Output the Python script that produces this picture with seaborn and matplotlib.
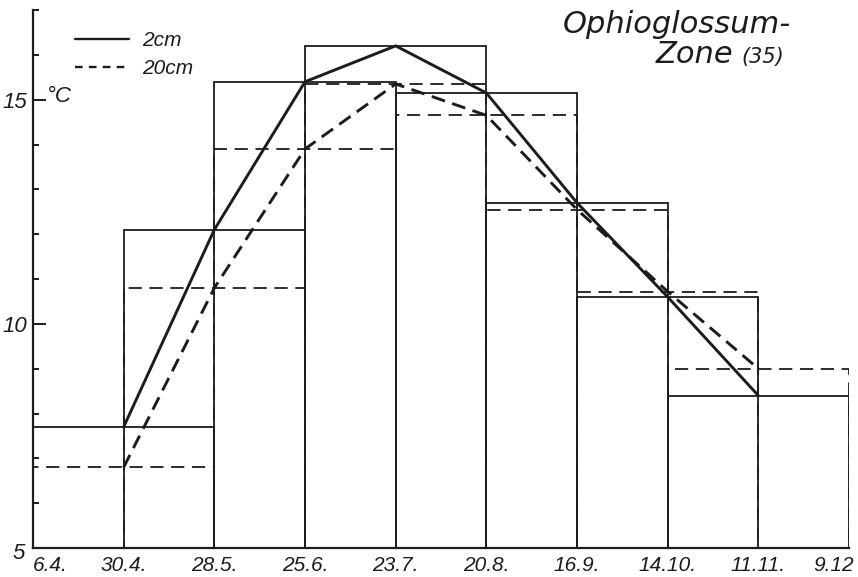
import matplotlib
matplotlib.use("Agg")
import matplotlib.pyplot as plt
import matplotlib.transforms as mtransforms
from matplotlib.lines import Line2D
from matplotlib.ticker import MultipleLocator, FixedLocator
import seaborn as sns
import numpy as np
import pandas as pd

# ---- data ----
dates = ["6.4.", "30.4.", "28.5.", "25.6.", "23.7.", "20.8.", "16.9.", "14.10.", "11.11.", "9.12"]
temp_2cm = [7.7, 12.1, 15.4, 16.2, 15.15, 12.7, 10.6, 8.4]      # at 30.4. ... 11.11.
temp_20cm = [6.8, 10.8, 13.9, 15.35, 14.65, 12.55, 10.72, 9.0]
series = ["2cm", "20cm"]
y_major = [5, 10, 15]
title_1 = "Ophioglossum-"
title_2 = "Zone"
title_3 = "(35)"
unit = "°C"

sns.set_theme(style="white")
plt.rcParams["lines.scale_dashes"] = False
ink = "#1c1c1c"
tick_font = ["Liberation Sans", "DejaVu Sans"]

W, H = 858, 577
fig = plt.figure(figsize=(W / 100, H / 100), dpi=100)
ax = fig.add_axes([33 / W, 29 / H, (849 - 33) / W, (548 - 10) / H])

pos = np.arange(len(dates))
mid_pos = pos[1:9]
base = 5

df = pd.DataFrame({
    "pos": np.concatenate([mid_pos, mid_pos]),
    "temp": temp_2cm + temp_20cm,
    "depth": [series[0]] * len(temp_2cm) + [series[1]] * len(temp_20cm),
})

# two-interval blocks centred on each date
ax.bar(mid_pos, np.array(temp_20cm) - base, bottom=base, width=2, fill=False,
       edgecolor=ink, linewidth=1.3, linestyle=(0, (9.5, 5.5)), zorder=2)
ax.bar(mid_pos, np.array(temp_2cm) - base, bottom=base, width=2, fill=False,
       edgecolor=ink, linewidth=1.3, zorder=3)

sns.lineplot(data=df, x="pos", y="temp", style="depth", color=ink, linewidth=2.1,
             dashes={series[0]: "", series[1]: (10, 5.5)}, legend=False, ax=ax, zorder=4)

ax.set_xlim(0, 9)
ax.set_ylim(5, 17)
ax.set_xlabel("")
ax.set_ylabel("")

for s in ["top", "right"]:
    ax.spines[s].set_visible(False)
for s in ["left", "bottom"]:
    ax.spines[s].set_color(ink)
    ax.spines[s].set_linewidth(1.6)

ax.xaxis.set_major_locator(FixedLocator(pos))
ax.set_xticklabels(dates)
ax.tick_params(axis="x", length=0, pad=6, labelsize=15, colors=ink)
ax.yaxis.set_major_locator(FixedLocator(y_major))
ax.yaxis.set_minor_locator(MultipleLocator(1))
ax.set_yticklabels([str(v) for v in y_major])
ax.tick_params(axis="y", which="major", direction="in", length=9, width=1.4, pad=4,
               labelsize=16, colors=ink, left=True)
ax.tick_params(axis="y", which="minor", direction="in", length=4, width=1.4, left=True, colors=ink)

for lab in ax.get_xticklabels() + ax.get_yticklabels():
    lab.set_family(tick_font)
    lab.set_style("italic")

xl = ax.get_xticklabels()
xl[0].set_ha("left")
xl[-1].set_ha("right")
xl[-1].set_transform(xl[-1].get_transform() + mtransforms.ScaledTranslation(5 / 100, 0, fig.dpi_scale_trans))
yl = ax.get_yticklabels()
yl[0].set_transform(yl[0].get_transform() + mtransforms.ScaledTranslation(-3 / 100, -3 / 100, fig.dpi_scale_trans))

# legend
handles = [Line2D([], [], color=ink, lw=1.7),
           Line2D([], [], color=ink, lw=1.7, dashes=(5.5, 4.5))]
leg = ax.legend(handles, series, loc="upper left", bbox_to_anchor=(75 / W, 1 - 31 / H),
                bbox_transform=fig.transFigure, frameon=False, borderpad=0, borderaxespad=0,
                handlelength=2.6, handletextpad=0.6, labelspacing=0.45,
                prop={"family": tick_font, "style": "italic", "size": 15})
for t in leg.get_texts():
    t.set_color(ink)

# texts
fig.text(47 / W, 1 - 97 / H, unit, ha="left", va="center", fontsize=16,
         family=tick_font, style="italic", color=ink)
fig.text(563 / W, 1 - 33 / H, title_1, ha="left", va="baseline", fontsize=22,
         family="DejaVu Sans", style="italic", color=ink)
fig.text(656 / W, 1 - 63 / H, title_2, ha="left", va="baseline", fontsize=22,
         family="DejaVu Sans", style="italic", color=ink)
fig.text(784 / W, 1 - 63 / H, title_3, ha="right", va="baseline", fontsize=15,
         family="DejaVu Sans", style="italic", color=ink)

fig.savefig("out.png", dpi=100, facecolor="white")
